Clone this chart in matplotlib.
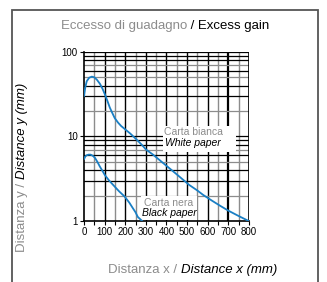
import numpy as np
import matplotlib
matplotlib.use("Agg")
import matplotlib.pyplot as plt
from matplotlib.patches import Rectangle

plt.rcParams['font.family'] = ['Liberation Sans Narrow', 'Liberation Sans', 'DejaVu Sans']

# curve values (x mm, y mm)
white_x = [0, 6, 13, 25, 38, 50, 62, 77, 90, 101, 113, 125, 137, 149, 165, 180, 197, 225, 253,
           280, 301, 335, 365, 410, 462, 510, 550, 578, 620, 660, 700, 750, 800]
white_y = [30, 38, 45, 49.5, 51, 50, 47, 42, 36.5, 31.6, 26.5, 22, 19, 16.5, 14.6, 13.3, 12.3, 10.8, 9.3,
           8.0, 7.0, 6.1, 5.3, 4.3, 3.37, 2.68, 2.3, 2.04, 1.75, 1.52, 1.33, 1.15, 1.0]
black_x = [0, 6, 13, 22, 32, 43, 53, 65, 77, 90, 101, 120, 141, 170, 197, 220, 237, 250, 261, 275, 288]
black_y = [5.4, 5.8, 6.0, 6.1, 6.1, 5.9, 5.6, 5.0, 4.4, 3.9, 3.5, 3.05, 2.68, 2.25, 1.95, 1.65, 1.42, 1.27, 1.12, 1.04, 0.97]

x_ticks = [0, 100, 200, 300, 400, 500, 600, 700, 800]
y_ticks = [1, 10, 100]

GRAY = '#8c8c8c'
BLUE = '#1a7fc4'

fig = plt.figure(figsize=(3.27, 2.82), dpi=100)
ax = fig.add_axes([0.257, 0.216, 0.504, 0.6])

ax.set_yscale('log')
ax.set_xlim(0, 800)
ax.set_ylim(1, 100)

# grid: verticals every 50, horizontals on every log step
for xv in range(50, 800, 50):
    if xv == 700:
        ax.axvline(xv, color='black', lw=1.6, zorder=1)
    elif xv % 100 == 0:
        ax.axvline(xv, color='black', lw=1.0, zorder=1)
    else:
        ax.axvline(xv, color=GRAY, lw=1.0, zorder=1)
gray_steps = [2, 5, 7]
for dec in [1, 10]:
    for k in range(2, 11):
        yv = dec * k
        c = GRAY if k in gray_steps else 'black'
        ax.axhline(yv, color=c, lw=0.9, zorder=1)

# white boxes behind the labels
ax.add_patch(Rectangle((385, 6.6), 355, 6.6, facecolor='white', edgecolor='none', zorder=2))
ax.add_patch(Rectangle((275, 1.04), 275, 0.95, facecolor='white', edgecolor='none', zorder=2))

ax.plot(white_x, white_y, color=BLUE, lw=1.3, zorder=3, solid_capstyle='round')
ax.plot(black_x, black_y, color=BLUE, lw=1.3, zorder=3, solid_capstyle='round')

ax.text(530, 11.3, 'Carta bianca', color=GRAY, fontsize=7.5, ha='center', va='center', zorder=4)
ax.text(530, 8.4, 'White paper', color='black', fontsize=7.5, style='italic', ha='center', va='center', zorder=4)
ax.text(412, 1.62, 'Carta nera', color=GRAY, fontsize=7.5, ha='center', va='center', zorder=4)
ax.text(412, 1.24, 'Black paper', color='black', fontsize=7.5, style='italic', ha='center', va='center', zorder=4)

ax.set_xticks(x_ticks)
ax.set_xticks(range(50, 800, 100), minor=True)
ax.set_yticks(y_ticks)
ax.set_yticklabels([str(v) for v in y_ticks])
ax.tick_params(axis='both', which='major', labelsize=7, length=3, width=0.8, pad=1.5)
ax.tick_params(axis='x', which='minor', length=3, width=0.8)
ax.tick_params(axis='y', which='minor', length=0)
for s in ['top', 'right']:
    ax.spines[s].set_visible(False)
ax.spines['left'].set_linewidth(1.2)
ax.spines['bottom'].set_linewidth(1.2)
ax.axvline(800, color='black', lw=1.2, zorder=1)
ax.axhline(100, color='black', lw=1.2, zorder=1)

# titles with two colours
fig.text(0.573, 0.908, 'Eccesso di guadagno', color=GRAY, fontsize=9.5, ha='right', va='center')
fig.text(0.573, 0.908, ' / Excess gain', color='black', fontsize=9.5, ha='left', va='center')
fig.text(0.552, 0.042, 'Distanza x / ', color=GRAY, fontsize=9.5, ha='right', va='center')
fig.text(0.552, 0.042, 'Distance x (mm)', color='black', fontsize=9.5, style='italic', ha='left', va='center')
fig.text(0.068, 0.364, 'Distanza y / ', color=GRAY, fontsize=9.5, rotation=90,
         rotation_mode='anchor', ha='right', va='center')
fig.text(0.068, 0.364, 'Distance y (mm)', color='black', fontsize=9.5, style='italic', rotation=90,
         rotation_mode='anchor', ha='left', va='center')

# outer frame
fig.add_artist(Rectangle((12 / 327, -0.05), 306 / 327, 1 - 10 / 282 + 0.05, transform=fig.transFigure,
                         facecolor='none', edgecolor='#555555', lw=1.3))

fig.savefig('out.png', dpi=100)
